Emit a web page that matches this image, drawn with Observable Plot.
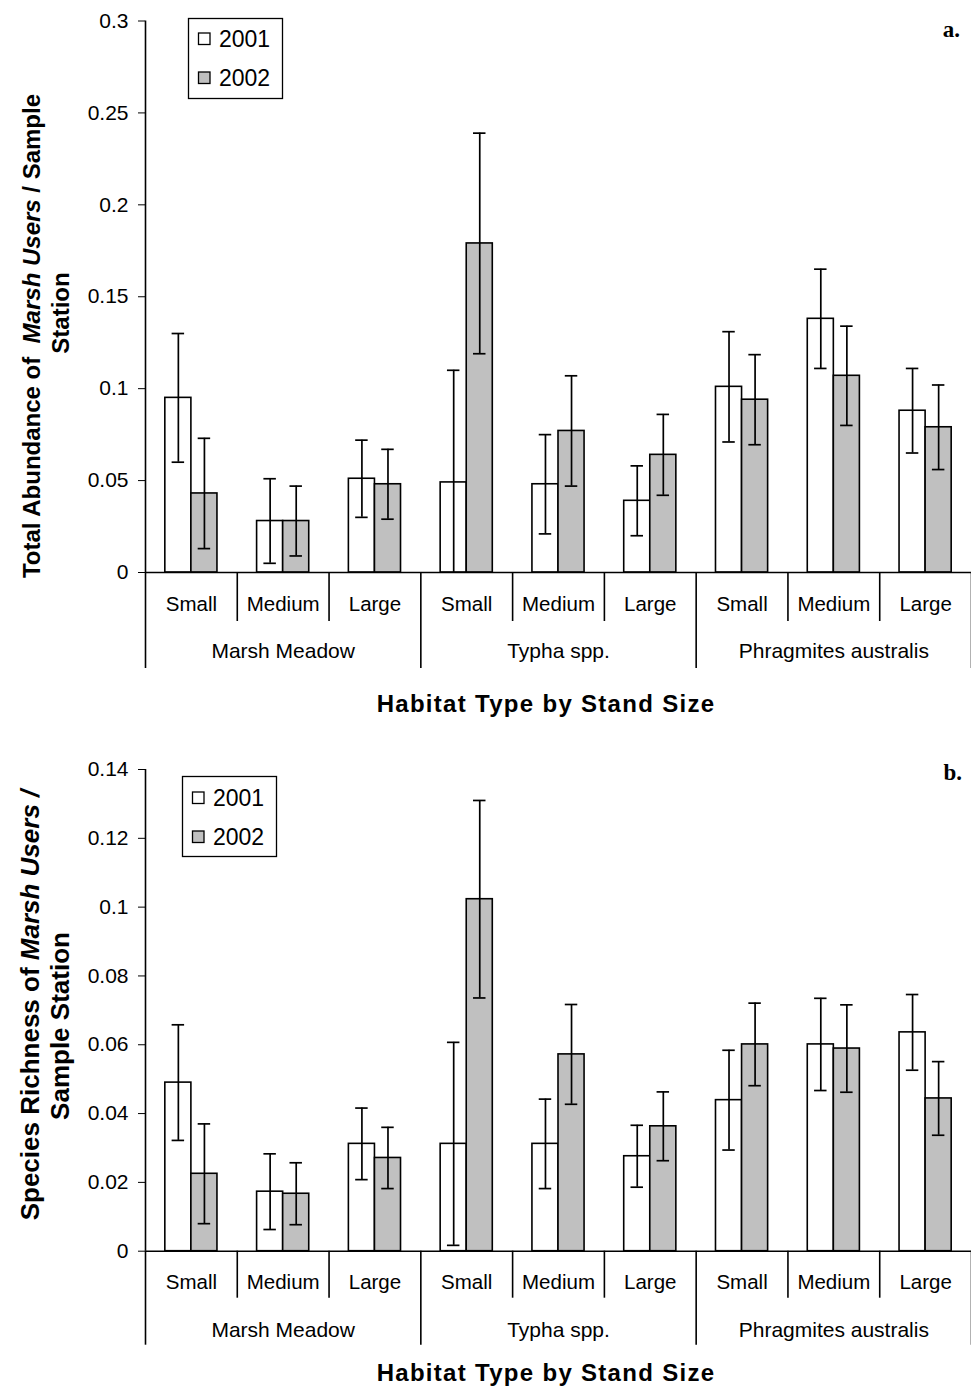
<!DOCTYPE html>
<html><head><meta charset="utf-8">
<script src="https://cdn.jsdelivr.net/npm/d3@7"></script>
<script src="https://cdn.jsdelivr.net/npm/@observablehq/plot@0.6"></script>
<style>
body{margin:0;background:#fff;}
#chart{width:971px;}
#chart svg{display:block;}
</style></head><body><div id="chart"></div>
<script>
// ---------- data ----------
const habitats = ["Marsh Meadow", "Typha spp.", "Phragmites australis"];
const sizes = ["Small", "Medium", "Large"];
const years = ["2001", "2002"];
// order: Marsh Meadow S,M,L | Typha S,M,L | Phragmites S,M,L
const abundance2001   = [0.095, 0.028, 0.051, 0.049, 0.048, 0.039, 0.101, 0.138, 0.088];
const abundanceSE2001 = [0.035, 0.023, 0.021, 0.061, 0.027, 0.019, 0.030, 0.027, 0.023];
const abundance2002   = [0.043, 0.028, 0.048, 0.179, 0.077, 0.064, 0.094, 0.107, 0.079];
const abundanceSE2002 = [0.030, 0.019, 0.019, 0.060, 0.030, 0.022, 0.0245, 0.027, 0.023];
const richness2001    = [0.049, 0.0173, 0.0312, 0.0312, 0.0312, 0.0276, 0.0439, 0.0601, 0.0636];
const richnessSE2001  = [0.0168, 0.011, 0.0104, 0.0295, 0.013, 0.009, 0.0145, 0.0134, 0.011];
const richness2002    = [0.0225, 0.0167, 0.0271, 0.1023, 0.0572, 0.0363, 0.0601, 0.0589, 0.0444];
const richnessSE2002  = [0.0145, 0.009, 0.0089, 0.0287, 0.0145, 0.010, 0.012, 0.0127, 0.0107];
const abundanceTicks = [0, 0.05, 0.1, 0.15, 0.2, 0.25, 0.3];
const abundanceTickLabels = ["0", "0.05", "0.1", "0.15", "0.2", "0.25", "0.3"];
const richnessTicks = [0, 0.02, 0.04, 0.06, 0.08, 0.1, 0.12, 0.14];
const richnessTickLabels = ["0", "0.02", "0.04", "0.06", "0.08", "0.1", "0.12", "0.14"];
const xTitle = "Habitat Type by Stand Size";

// ---------- helpers ----------
function buildRows(m1, s1, m2, s2) {
  const rows = [];
  habitats.forEach((h, hi) => sizes.forEach((s, si) => {
    const i = hi * 3 + si;
    [[m1, s1], [m2, s2]].forEach(([m, se], yi) =>
      rows.push({habitat: h, size: s, index: i, year: years[yi], yi, mean: m[i], se: se[i]}));
  }));
  return rows;
}
const BAR = 0.284;   // bar width as a fraction of a category slot
const CAP = 0.068;   // half-width of error-bar caps
const bx1 = d => d.index + 0.5 - BAR + d.yi * BAR;
const bx2 = d => bx1(d) + BAR;
const bcx = d => bx1(d) + BAR / 2;
const FONT = "'Liberation Sans', Arial, sans-serif";

function panel(o) {
  const rows = o.rows;
  const cats = d3.range(9).map(i => ({index: i, size: sizes[i % 3]}));
  const groups = habitats.map((h, hi) => ({habitat: h, hi}));
  const minor = d3.range(10).filter(i => i % 3 !== 0);
  const major = d3.range(10).filter(i => i % 3 === 0);
  const svg = Plot.plot({
    width: 971, height: o.height,
    marginLeft: 145, marginRight: 0, marginTop: o.marginTop, marginBottom: o.marginBottom,
    style: {fontFamily: FONT, fontSize: "21px", color: "#000", background: "#fff", overflow: "visible"},
    x: {domain: [0, 9], axis: null},
    y: {domain: o.domain, ticks: o.ticks, tickFormat: d => o.tickLabels[o.ticks.indexOf(d)],
        tickSize: 7, tickPadding: 10, label: null},
    color: {domain: years, range: ["#ffffff", "#c0c0c0"]},
    marks: [
      Plot.rect(rows, {x1: bx1, x2: bx2, y1: 0, y2: "mean", fill: "year", stroke: "#000", strokeWidth: 1.6}),
      Plot.ruleX(rows, {x: bcx, y1: d => Math.max(0, d.mean - d.se), y2: d => d.mean + d.se, stroke: "#000", strokeWidth: 1.7}),
      Plot.ruleY(rows, {y: d => d.mean + d.se, x1: d => bcx(d) - CAP, x2: d => bcx(d) + CAP, stroke: "#000", strokeWidth: 1.7}),
      Plot.ruleY(rows.filter(d => d.mean - d.se > 0), {y: d => d.mean - d.se, x1: d => bcx(d) - CAP, x2: d => bcx(d) + CAP, stroke: "#000", strokeWidth: 1.7}),
      Plot.ruleY([0], {stroke: "#000", strokeWidth: 1.6}),
      Plot.ruleX([0], {stroke: "#000", strokeWidth: 1.6}),
      Plot.ruleX(minor, {x: d => d, y1: 0, y2: 0, insetBottom: -o.minorLen, stroke: "#000", strokeWidth: 1.6}),
      Plot.ruleX(major, {x: d => d, y1: 0, y2: 0, insetBottom: -o.majorLen, stroke: "#000", strokeWidth: 1.6}),
      Plot.text(cats, {x: d => d.index + 0.5, y: 0, dy: o.catDy, text: "size", fontSize: 20.5, fill: "#000"}),
      Plot.text(groups, {x: d => d.hi * 3 + 1.5, y: 0, dy: o.groupDy, text: "habitat", fontSize: 21, fill: "#000"})
    ]
  });
  const s = d3.select(svg);
  // x-axis title
  s.append("text").attr("x", o.xTitle.x).attr("y", o.xTitle.y).attr("text-anchor", "middle")
    .attr("dy", "0.36em").attr("font-family", FONT).attr("font-weight", "bold").attr("font-size", 24)
    .attr("letter-spacing", "1.3px").attr("fill", "#000").text(xTitle);
  // y-axis title (two rotated lines, with italic words)
  o.yTitle.forEach(line => {
    const t = s.append("text")
      .attr("transform", `translate(${line.x},${line.y}) rotate(-90)`)
      .attr("text-anchor", "middle")
      .attr("font-family", FONT).attr("font-weight", "bold").attr("font-size", o.yTitleSize)
      .style("white-space", "pre").attr("fill", "#000");
    line.parts.forEach(p => t.append("tspan").attr("font-style", p.italic ? "italic" : "normal").text(p.text));
  });
  // panel letter
  s.append("text").attr("x", o.letter.x).attr("y", o.letter.y).attr("text-anchor", "end")
    .attr("font-family", "'Liberation Serif', 'Times New Roman', serif").attr("font-weight", "bold")
    .attr("font-size", 23).attr("fill", "#000").text(o.letter.text);
  // legend
  const L = o.legend;
  const g = s.append("g").attr("transform", `translate(${L.x},${L.y})`);
  g.append("rect").attr("x", 0.5).attr("y", 0.5).attr("width", L.w).attr("height", L.h)
    .attr("fill", "#fff").attr("stroke", "#000").attr("stroke-width", 1.3);
  years.forEach((yr, i) => {
    const cy = L.row0 + i * L.rowGap;
    g.append("rect").attr("x", 10.5).attr("y", cy - 6).attr("width", 11.5).attr("height", 11.5)
      .attr("fill", i === 0 ? "#ffffff" : "#c0c0c0").attr("stroke", "#000").attr("stroke-width", 1.3);
    g.append("text").attr("x", 31).attr("y", cy).attr("dy", "0.36em").attr("text-anchor", "start")
      .attr("font-family", FONT).attr("font-size", 23).attr("fill", "#000").text(yr);
  });
  return svg;
}

const chart = document.getElementById("chart");
chart.appendChild(panel({
  rows: buildRows(abundance2001, abundanceSE2001, abundance2002, abundanceSE2002),
  height: 730, marginTop: 20.5, marginBottom: 158,
  domain: [0, 0.3], ticks: abundanceTicks, tickLabels: abundanceTickLabels,
  minorLen: 49, majorLen: 96, catDy: 32, groupDy: 79,
  xTitle: {x: 546, y: 703},
  yTitleSize: 24,
  yTitle: [
    {x: 40, y: 336, parts: [{text: "Total Abundance of  "}, {text: "Marsh Users", italic: true}, {text: " / Sample"}]},
    {x: 69, y: 313, parts: [{text: "Station"}]}
  ],
  letter: {x: 960, y: 37, text: "a."},
  legend: {x: 188, y: 18, w: 94, h: 80, row0: 21, rowGap: 39}
}));
chart.appendChild(panel({
  rows: buildRows(richness2001, richnessSE2001, richness2002, richnessSE2002),
  height: 659, marginTop: 39, marginBottom: 138.3,
  domain: [0, 0.14], ticks: richnessTicks, tickLabels: richnessTickLabels,
  minorLen: 47, majorLen: 94, catDy: 31, groupDy: 79,
  xTitle: {x: 546, y: 642},
  yTitleSize: 26,
  yTitle: [
    {x: 39, y: 275, parts: [{text: "Species Richness of "}, {text: "Marsh Users /", italic: true}]},
    {x: 69, y: 296, parts: [{text: "Sample Station"}]}
  ],
  letter: {x: 962, y: 50, text: "b."},
  legend: {x: 182, y: 46, w: 94, h: 80, row0: 22, rowGap: 39}
}));
</script>
</body></html>
